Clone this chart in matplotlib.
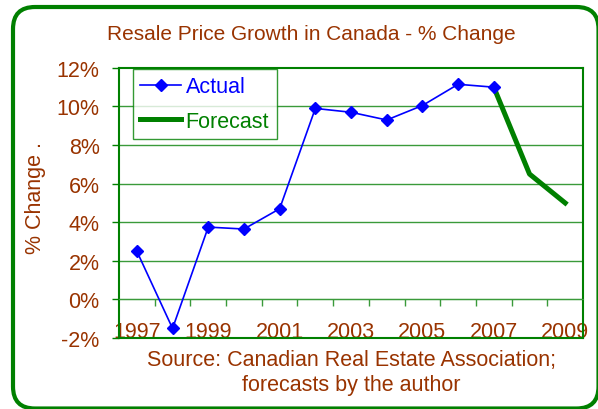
import numpy as np
import matplotlib.pyplot as plt
from matplotlib.patches import FancyBboxPatch
from matplotlib.ticker import FixedLocator, FuncFormatter

plt.rcParams['font.family'] = ['Liberation Sans', 'DejaVu Sans']

years = [1997, 1998, 1999, 2000, 2001, 2002, 2003, 2004, 2005, 2006, 2007, 2008, 2009]
actual = [2.5, -1.5, 3.75, 3.65, 4.7, 9.9, 9.7, 9.3, 10.05, 11.15, 11.0]
forecastYears = [2007, 2008, 2009]
forecast = [11.0, 6.5, 5.0]
yticks = [-2, 0, 2, 4, 6, 8, 10, 12]

brown = '#993300'
green = '#008000'
gridGreen = '#3a9a3a'
fs = 15.5

fig = plt.figure(figsize=(5.98, 4.10), dpi=100)
ax = fig.add_axes([0.199, 0.173, 0.776, 0.659])

xA = [years.index(y) for y in years[:len(actual)]]
xF = [years.index(y) for y in forecastYears]

ax.plot(xA, actual, color='#0000ff', linewidth=1.2, marker='D', markersize=6.5,
        label='Actual', zorder=4)
ax.plot(xF, forecast, color=green, linewidth=3.6, label='Forecast', zorder=3)

ax.set_xlim(-0.5, len(years) - 0.5)
ax.set_ylim(-2, 12)

# y axis
ax.set_yticks(yticks)
ax.yaxis.set_major_formatter(FuncFormatter(lambda v, p: '%d%%' % v))
ax.tick_params(axis='y', direction='out', length=5, width=1, color=green,
               labelcolor=brown, labelsize=fs, pad=9)
for v in yticks[1:-1]:
    ax.axhline(v, color=gridGreen, linewidth=1, zorder=1)

# x axis crosses at 0
ax.spines['bottom'].set_position(('data', 0))
ax.spines['bottom'].set_color(gridGreen)
ax.xaxis.set_major_locator(FixedLocator(list(range(0, len(years), 2))))
ax.xaxis.set_major_formatter(FuncFormatter(lambda v, p: str(years[int(round(v))])))
ax.xaxis.set_minor_locator(FixedLocator([i + 0.5 for i in range(len(years) - 1)]))
ax.tick_params(axis='x', which='major', length=0, labelcolor=brown, labelsize=fs, pad=15.5)
ax.tick_params(axis='x', which='minor', direction='out', length=5, width=1, color=gridGreen)
ax.axhline(-2, color=green, linewidth=1.5, clip_on=False, zorder=2)

for s in ['top', 'left', 'right']:
    ax.spines[s].set_color(green)
    ax.spines[s].set_linewidth(1.5)

leg = ax.legend(loc='upper left', bbox_to_anchor=(0.03, 0.997), fontsize=fs,
                labelcolor='linecolor', fancybox=False, handlelength=1.9,
                handletextpad=0.2, borderpad=0.35, labelspacing=0.62,
                borderaxespad=0)
leg.get_frame().set_edgecolor(green)
leg.get_frame().set_linewidth(1)

fig.text(311 / 598, 1 - 35 / 410, 'Resale Price Growth in Canada - % Change',
         ha='center', va='center', color=brown, fontsize=15)
fig.text(35 / 598, 1 - 198 / 410, '% Change .', rotation=90,
         ha='center', va='center', color=brown, fontsize=fs)
fig.text(351 / 598, 1 - 373 / 410,
         'Source: Canadian Real Estate Association;\nforecasts by the author',
         ha='center', va='center', color=brown, fontsize=fs, linespacing=1.3)

frame = FancyBboxPatch((0.13, 0.005), 5.855, 4.015,
                       boxstyle='round,pad=0,rounding_size=0.22',
                       transform=fig.dpi_scale_trans, fill=False,
                       edgecolor=green, linewidth=3)
fig.patches.append(frame)

fig.savefig('out.png', dpi=100)
